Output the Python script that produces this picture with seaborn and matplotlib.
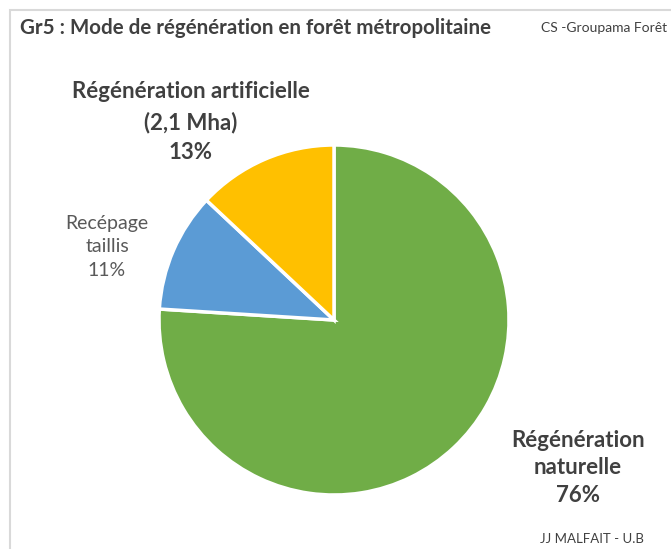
import matplotlib
matplotlib.use('Agg')
import matplotlib.pyplot as plt
import seaborn as sns
from matplotlib.patches import Rectangle

# Data
categories = ['Régénération naturelle', 'Recépage taillis', 'Régénération artificielle']
shares = [76, 11, 13]
colors = ['#70AD47', '#5B9BD5', '#FFC000']

sns.set_theme(style='white')
plt.rcParams['font.family'] = ['Lato', 'DejaVu Sans']

fig = plt.figure(figsize=(6.71, 5.49), dpi=100)
fig.patch.set_facecolor('white')

# light frame around the chart
fig.add_artist(Rectangle((10 / 671, -0.05), 1.0, 1 - 10 / 549 + 0.05,
                         transform=fig.transFigure, fill=False,
                         edgecolor='#d9d9d9', linewidth=1.5))

ax = fig.add_axes([159 / 671, 54 / 549, 350 / 671, 350 / 549])
ax.pie(shares, colors=colors, startangle=90, counterclock=False,
       wedgeprops=dict(edgecolor='white', linewidth=2.5))
ax.set_xlim(-1, 1)
ax.set_ylim(-1, 1)
ax.set_aspect('equal')
ax.axis('off')

def fx(x):
    return x / 671

def fy(y):
    return 1 - y / 549

dark = '#404040'
fig.text(fx(20), fy(28), 'Gr5 : Mode de régénération en forêt métropolitaine',
         fontsize=14.8, fontweight='bold', color=dark, va='center', ha='left')
fig.text(fx(667), fy(28), 'CS -Groupama Forêt', fontsize=10, color=dark,
         va='center', ha='right')

fig.text(fx(191), fy(122), 'Régénération artificielle\n(2,1 Mha)\n13%',
         fontsize=16, fontweight='bold', color=dark, ha='center', va='center',
         linespacing=1.5)
fig.text(fx(107), fy(247), 'Recépage\ntaillis\n11%', fontsize=14,
         color='#595959', ha='center', va='center', linespacing=1.5)
fig.text(fx(578), fy(468), 'Régénération\nnaturelle\n76%', fontsize=16,
         fontweight='bold', color=dark, ha='center', va='center', linespacing=1.4)
fig.text(fx(592), fy(539), 'JJ MALFAIT - U.B', fontsize=9.5, color=dark,
         ha='center', va='center')

fig.savefig('out.png', dpi=100)
